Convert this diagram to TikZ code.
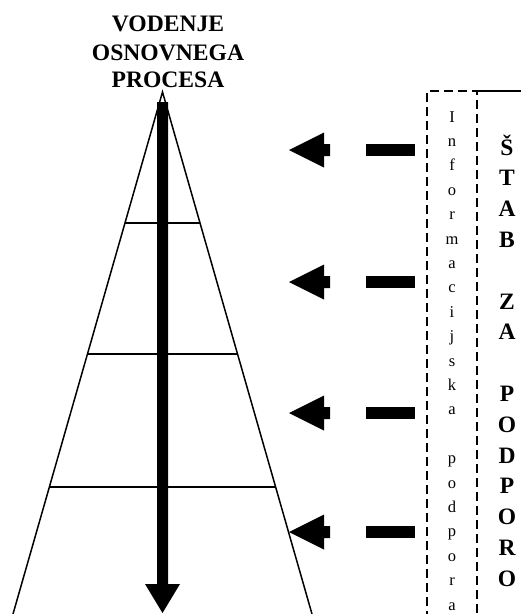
\documentclass[tikz,border=0pt]{standalone}
\usepackage{fontspec}
\setmainfont{Liberation Serif}
\usetikzlibrary{calc}
\begin{document}
\begin{tikzpicture}[x=1pt,y=-1pt, line width=1.5pt,
  title/.style={font=\fontsize{23.6}{28}\selectfont\bfseries, anchor=base, inner sep=0pt},
  infl/.style={font=\fontsize{16.5}{18}\selectfont, anchor=base, inner sep=0pt},
  stabl/.style={font=\fontsize{23.5}{28}\selectfont\bfseries, anchor=base, inner sep=0pt},
  blk/.style={fill=black, draw=none},
  dashbox/.style={dash pattern=on 9pt off 5pt, line width=1.5pt}]
\useasboundingbox (0,0) rectangle (521,614);
\clip (0,0) rectangle (521,614);
% title
\node[title] (t1) at (168,31) {VODENJE};
\node[title] (t2) at (168,60) {OSNOVNEGA};
\node[title] (t3) at (168,87) {PROCESA};
% triangle
\coordinate (apex) at (162.5,92);
\coordinate (bl) at (13,614);
\coordinate (br) at (312,614);
\draw (bl) -- (apex) -- (br);
\foreach \t in {0.251,0.502,0.757}
  \draw ($(apex)!\t!(bl)$) -- ($(apex)!\t!(br)$);
% big downward arrow
\fill[blk] (157,102) -- (168,102) -- (168,584) -- (180,584) -- (162.5,613)
  -- (145,584) -- (157,584) -- cycle;
% left arrows and bars
\foreach \y in {150,282,413,532} {
  \fill[blk] (289,\y) -- (324,\y-17.5) -- (324,\y-6) -- (330,\y-6)
    -- (330,\y+6) -- (324,\y+6) -- (324,\y+17.5) -- cycle;
  \fill[blk] (366,\y-6) rectangle (415,\y+6);
}
% dashed box
\draw[dashbox] (427,620) -- (427,91) -- (477,91) -- (477,620);
\draw (477,91) -- (521,91);
% Informacijska podpora
\foreach \c [count=\i] in {I,n,f,o,r,m,a,c,i,j,s,k,a,{},p,o,d,p,o,r,a}
  \node[infl] (inf\i) at (452,{122+24.4*(\i-1)}) {\c};
% STAB ZA PODPORO
\foreach \c [count=\i] in {Š,T,A,B,{},Z,A,{},P,O,D,P,O,R,O}
  \node[stabl] (st\i) at (507,{155+30.8*(\i-1)}) {\c};
\end{tikzpicture}
\end{document}
